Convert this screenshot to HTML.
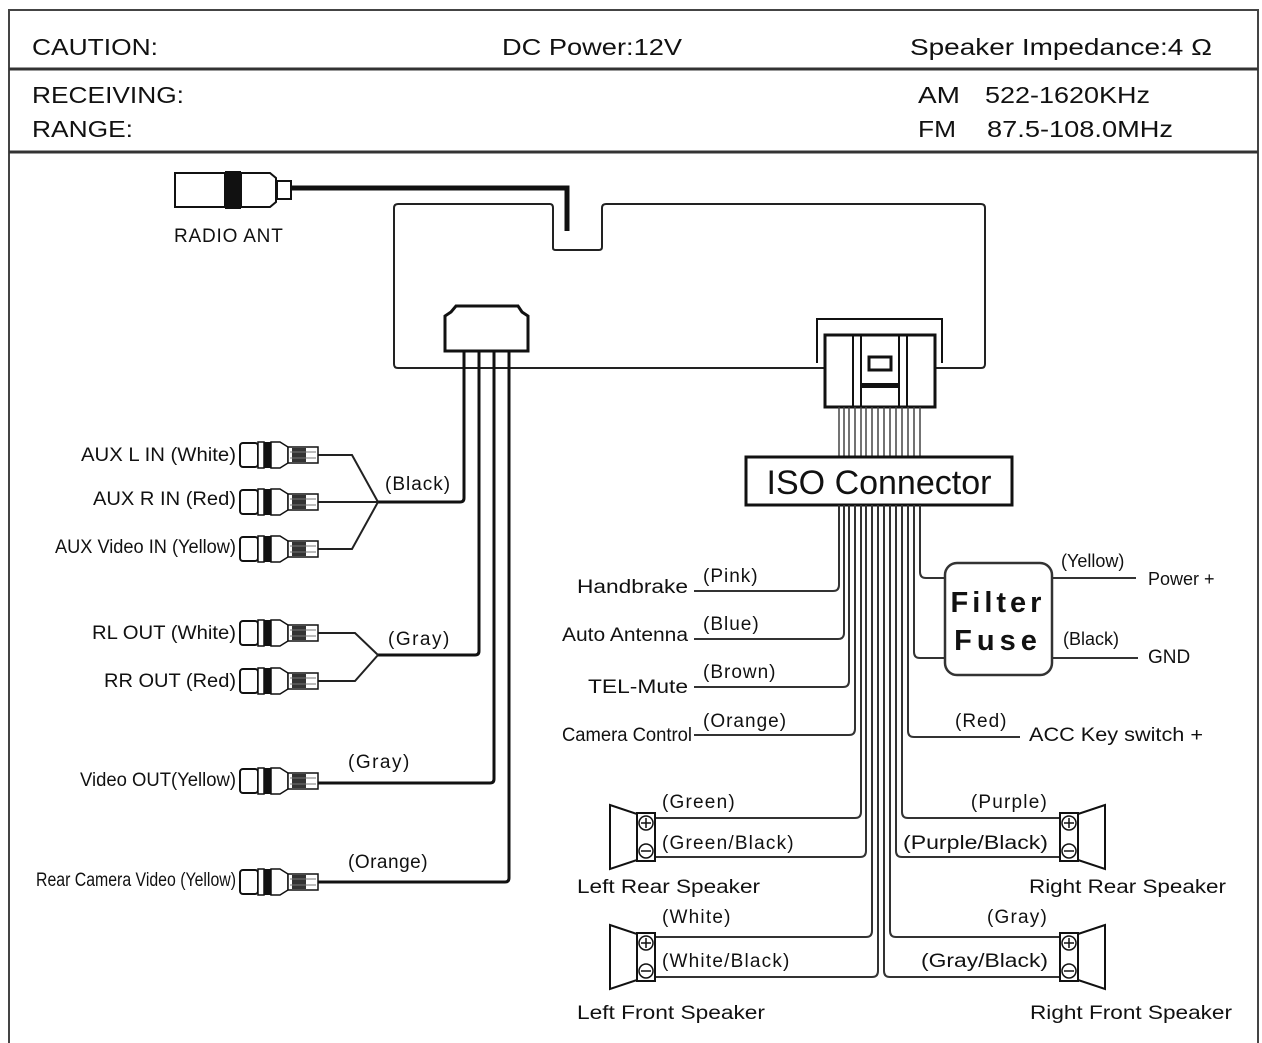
<!DOCTYPE html>
<html><head><meta charset="utf-8"><style>
html,body{margin:0;padding:0;background:#fff;}
svg{display:block;}
text{font-family:"Liberation Sans",sans-serif;fill:#111;}
</style></head><body>
<svg width="1262" height="1043" viewBox="0 0 1262 1043" xmlns="http://www.w3.org/2000/svg">
<defs>
<g id="rca">
  <rect x="0" y="-12" width="18" height="24" rx="3" fill="#fff" stroke="#111" stroke-width="2"/>
  <rect x="18" y="-13" width="6" height="26" fill="#fff" stroke="#111" stroke-width="1.5"/>
  <rect x="24" y="-13" width="7" height="26" fill="#111"/>
  <path d="M31 -13 L40 -13 L48 -8 L48 8 L40 13 L31 13 Z" fill="#fff" stroke="#111" stroke-width="1.5"/>
  <rect x="48" y="-8" width="30" height="16" fill="#fff" stroke="#111" stroke-width="1.5"/>
  <rect x="52" y="-7" width="14" height="14" fill="#333"/>
  <line x1="50" y1="-3" x2="76" y2="-3" stroke="#777" stroke-width="1"/>
  <line x1="50" y1="3" x2="76" y2="3" stroke="#777" stroke-width="1"/>
</g>
<g id="spkL">
  <path d="M0 -32 L30 -22 L30 22 L0 32 Z" fill="#fff" stroke="#111" stroke-width="2"/>
  <rect x="27" y="-24" width="18" height="48" fill="#fff" stroke="#111" stroke-width="2"/>
  <circle cx="36" cy="-14" r="7" fill="#fff" stroke="#111" stroke-width="1.5"/>
  <line x1="31" y1="-14" x2="41" y2="-14" stroke="#111" stroke-width="1.5"/>
  <line x1="36" y1="-19" x2="36" y2="-9" stroke="#111" stroke-width="1.5"/>
  <circle cx="36" cy="14" r="7" fill="#fff" stroke="#111" stroke-width="1.5"/>
  <line x1="31" y1="14" x2="41" y2="14" stroke="#111" stroke-width="1.5"/>
</g>
</defs>

<rect x="9" y="10" width="1249" height="1040" fill="none" stroke="#444" stroke-width="2"/>
<line x1="9" y1="69" x2="1258" y2="69" stroke="#333" stroke-width="3"/>
<line x1="9" y1="152" x2="1258" y2="152" stroke="#333" stroke-width="3"/>

<text x="32" y="55" font-size="23" textLength="126" lengthAdjust="spacingAndGlyphs">CAUTION:</text>
<text x="502" y="55" font-size="23" textLength="180" lengthAdjust="spacingAndGlyphs">DC Power:12V</text>
<text x="910" y="55" font-size="23" textLength="302" lengthAdjust="spacingAndGlyphs">Speaker Impedance:4 Ω</text>
<text x="32" y="103" font-size="23" textLength="152" lengthAdjust="spacingAndGlyphs">RECEIVING:</text>
<text x="32" y="137" font-size="23" textLength="101" lengthAdjust="spacingAndGlyphs">RANGE:</text>
<text x="918" y="103" font-size="23" textLength="42" lengthAdjust="spacingAndGlyphs">AM</text>
<text x="985" y="103" font-size="23" textLength="165" lengthAdjust="spacingAndGlyphs">522-1620KHz</text>
<text x="918" y="137" font-size="23" textLength="38" lengthAdjust="spacingAndGlyphs">FM</text>
<text x="987" y="137" font-size="23" textLength="186" lengthAdjust="spacingAndGlyphs">87.5-108.0MHz</text>

<rect x="175" y="173" width="50" height="34" fill="#fff" stroke="#111" stroke-width="2"/>
<rect x="225" y="171" width="16" height="38" fill="#111"/>
<path d="M241 173 L270 173 L276 178 L276 202 L270 207 L241 207 Z" fill="#fff" stroke="#111" stroke-width="2"/>
<rect x="277" y="181" width="14" height="18" fill="#fff" stroke="#111" stroke-width="2"/>
<path d="M291 188 L567 188 L567 231" fill="none" stroke="#111" stroke-width="5"/>
<text x="174" y="242" font-size="19" letter-spacing="0.8">RADIO ANT</text>

<path d="M398 204 L550 204 Q553 204 553 208 L553 248 Q553 250 556 250 L599 250 Q602 250 602 247 L602 208 Q602 204 606 204 L981 204 Q985 204 985 208 L985 364 Q985 368 981 368 L398 368 Q394 368 394 364 L394 208 Q394 204 398 204 Z" fill="none" stroke="#222" stroke-width="2"/>

<path d="M456 306 L518 306 L522 312 L528 316 L528 351 L445 351 L445 316 L451 312 Z" fill="#fff" stroke="#111" stroke-width="3"/>
<g stroke="#111" stroke-width="3" fill="none">
<path d="M464 351 L464 498 Q464 502 460 502 L378 502"/>
<path d="M479 351 L479 651 Q479 655 475 655 L378 655"/>
<path d="M494 351 L494 779 Q494 783 490 783 L318 783"/>
<path d="M509 351 L509 878 Q509 882 505 882 L318 882"/>
</g>
<g stroke="#222" stroke-width="2" fill="none">
<path d="M318 455 L352 455 L378 502"/>
<path d="M318 502 L378 502"/>
<path d="M318 549 L352 549 L378 502"/>
<path d="M318 633 L355 633 L378 655"/>
<path d="M318 681 L355 681 L378 655"/>
</g>
<use href="#rca" x="240" y="455"/>
<use href="#rca" x="240" y="502"/>
<use href="#rca" x="240" y="549"/>
<use href="#rca" x="240" y="633"/>
<use href="#rca" x="240" y="681"/>
<use href="#rca" x="240" y="781"/>
<use href="#rca" x="240" y="882"/>
<g font-size="19">
<text x="236" y="461" text-anchor="end" textLength="155" lengthAdjust="spacingAndGlyphs">AUX L IN (White)</text>
<text x="236" y="505" text-anchor="end" textLength="143" lengthAdjust="spacingAndGlyphs">AUX R IN (Red)</text>
<text x="236" y="553" text-anchor="end" textLength="181" lengthAdjust="spacingAndGlyphs">AUX Video IN (Yellow)</text>
<text x="236" y="639" text-anchor="end" textLength="144" lengthAdjust="spacingAndGlyphs">RL OUT (White)</text>
<text x="236" y="687" text-anchor="end" textLength="132" lengthAdjust="spacingAndGlyphs">RR OUT (Red)</text>
<text x="236" y="786" text-anchor="end" textLength="156" lengthAdjust="spacingAndGlyphs">Video OUT(Yellow)</text>
<text x="236" y="886" text-anchor="end" textLength="200" lengthAdjust="spacingAndGlyphs">Rear Camera Video (Yellow)</text>
<text x="385" y="490" letter-spacing="1">(Black)</text>
<text x="388" y="645" letter-spacing="1.5">(Gray)</text>
<text x="348" y="768" letter-spacing="1.5">(Gray)</text>
<text x="348" y="868" letter-spacing="0.5">(Orange)</text>
</g>

<path d="M817 363 L817 319 L942 319 L942 363" fill="none" stroke="#111" stroke-width="2"/>
<rect x="825" y="335" width="110" height="72" fill="#fff" stroke="#111" stroke-width="3"/>
<line x1="853" y1="335" x2="853" y2="407" stroke="#111" stroke-width="2"/>
<line x1="861" y1="335" x2="861" y2="407" stroke="#111" stroke-width="2"/>
<line x1="899" y1="335" x2="899" y2="407" stroke="#111" stroke-width="2"/>
<line x1="907" y1="335" x2="907" y2="407" stroke="#111" stroke-width="2"/>
<rect x="869" y="357" width="22" height="13" fill="#fff" stroke="#111" stroke-width="3"/>
<rect x="862" y="383" width="36" height="5" fill="#111"/>
<g stroke="#444" stroke-width="1.5">
<line x1="839" y1="407" x2="839" y2="458"/><line x1="844" y1="407" x2="844" y2="458"/>
<line x1="849" y1="407" x2="849" y2="458"/><line x1="855" y1="407" x2="855" y2="458"/>
<line x1="861" y1="407" x2="861" y2="458"/><line x1="866" y1="407" x2="866" y2="458"/>
<line x1="872" y1="407" x2="872" y2="458"/><line x1="878" y1="407" x2="878" y2="458"/>
<line x1="884" y1="407" x2="884" y2="458"/><line x1="890" y1="407" x2="890" y2="458"/>
<line x1="896" y1="407" x2="896" y2="458"/><line x1="902" y1="407" x2="902" y2="458"/>
<line x1="908" y1="407" x2="908" y2="458"/><line x1="914" y1="407" x2="914" y2="458"/>
<line x1="920" y1="407" x2="920" y2="458"/>
</g>
<rect x="746" y="457" width="266" height="48" fill="#fff" stroke="#111" stroke-width="3"/>
<text x="879" y="494" font-size="34" text-anchor="middle">ISO Connector</text>

<g stroke="#333" stroke-width="2" fill="none">
<path d="M839 505 L839 585 Q839 591 833 591 L694 591"/>
<path d="M844 505 L844 633 Q844 639 838 639 L694 639"/>
<path d="M849 505 L849 681 Q849 687 843 687 L694 687"/>
<path d="M855 505 L855 729 Q855 735 849 735 L694 735"/>
<path d="M861 505 L861 812 Q861 818 855 818 L655 818"/>
<path d="M866 505 L866 851 Q866 857 860 857 L655 857"/>
<path d="M872 505 L872 931 Q872 937 866 937 L655 937"/>
<path d="M878 505 L878 971 Q878 977 872 977 L655 977"/>
<path d="M884 505 L884 971 Q884 977 890 977 L1060 977"/>
<path d="M890 505 L890 931 Q890 937 896 937 L1060 937"/>
<path d="M896 505 L896 851 Q896 857 902 857 L1060 857"/>
<path d="M902 505 L902 812 Q902 818 908 818 L1060 818"/>
<path d="M908 505 L908 731 Q908 737 914 737 L1020 737"/>
<path d="M914 505 L914 652 Q914 658 920 658 L945 658"/>
<path d="M920 505 L920 572 Q920 578 926 578 L945 578"/>
<path d="M1052 578 L1136 578"/>
<path d="M1052 658 L1138 658"/>
</g>
<rect x="945" y="563" width="107" height="112" rx="12" fill="#fff" stroke="#333" stroke-width="2.5"/>
<text x="998" y="612" font-size="29" font-weight="bold" text-anchor="middle" letter-spacing="4">Filter</text>
<text x="998" y="650" font-size="29" font-weight="bold" text-anchor="middle" letter-spacing="5">Fuse</text>

<g font-size="19">
<text x="688" y="593" text-anchor="end" textLength="111" lengthAdjust="spacingAndGlyphs">Handbrake</text>
<text x="688" y="641" text-anchor="end" textLength="126" lengthAdjust="spacingAndGlyphs">Auto Antenna</text>
<text x="688" y="693" text-anchor="end" textLength="100" lengthAdjust="spacingAndGlyphs">TEL-Mute</text>
<text x="692" y="741" text-anchor="end" textLength="130" lengthAdjust="spacingAndGlyphs">Camera Control</text>
<text x="703" y="582" letter-spacing="1">(Pink)</text>
<text x="703" y="630" letter-spacing="1">(Blue)</text>
<text x="703" y="678" letter-spacing="1">(Brown)</text>
<text x="703" y="727" letter-spacing="1">(Orange)</text>
<text x="1061" y="567" font-size="18">(Yellow)</text>
<text x="1148" y="585" font-size="18">Power +</text>
<text x="1063" y="645" font-size="18">(Black)</text>
<text x="1148" y="663" font-size="19">GND</text>
<text x="955" y="727" letter-spacing="1">(Red)</text>
<text x="1029" y="741" textLength="174" lengthAdjust="spacingAndGlyphs">ACC Key switch +</text>
<text x="662" y="808" letter-spacing="1.2">(Green)</text>
<text x="662" y="849" letter-spacing="1.2">(Green/Black)</text>
<text x="662" y="923" letter-spacing="1.2">(White)</text>
<text x="662" y="967" letter-spacing="1.2">(White/Black)</text>
<text x="1048" y="808" text-anchor="end" letter-spacing="1.2">(Purple)</text>
<text x="1048" y="849" text-anchor="end" textLength="145" lengthAdjust="spacingAndGlyphs">(Purple/Black)</text>
<text x="1048" y="923" text-anchor="end" letter-spacing="1.2">(Gray)</text>
<text x="1048" y="967" text-anchor="end" textLength="127" lengthAdjust="spacingAndGlyphs">(Gray/Black)</text>
<text x="577" y="893" textLength="183" lengthAdjust="spacingAndGlyphs">Left Rear Speaker</text>
<text x="577" y="1019" textLength="188" lengthAdjust="spacingAndGlyphs">Left Front Speaker</text>
<text x="1029" y="893" textLength="197" lengthAdjust="spacingAndGlyphs">Right Rear Speaker</text>
<text x="1030" y="1019" textLength="202" lengthAdjust="spacingAndGlyphs">Right Front Speaker</text>
</g>

<use href="#spkL" x="610" y="837"/>
<use href="#spkL" x="610" y="957"/>
<use href="#spkL" transform="translate(1105,837) scale(-1,1)"/>
<use href="#spkL" transform="translate(1105,957) scale(-1,1)"/>
</svg>
</body></html>
